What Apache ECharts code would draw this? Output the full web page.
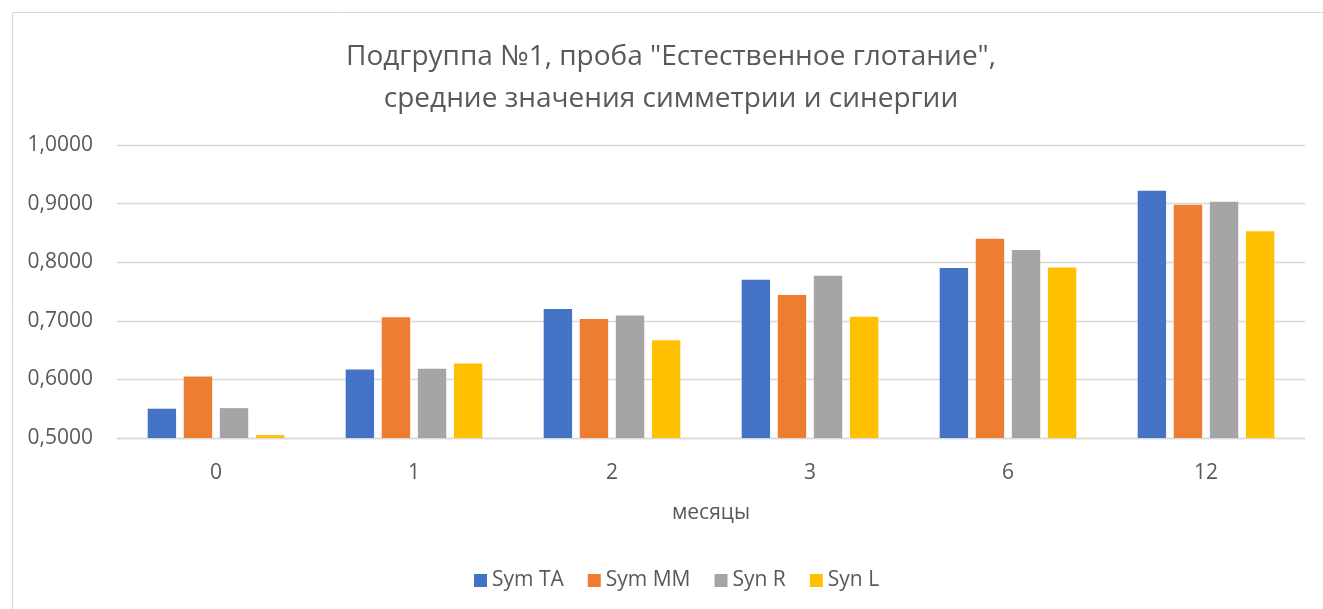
<!DOCTYPE html>
<html>
<head>
<meta charset="utf-8">
<script src="https://cdn.jsdelivr.net/npm/echarts@6/dist/echarts.min.js"></script>
<style>
    html, body { margin: 0; padding: 0; background: #fff; }
    #chart { width: 1323px; height: 609px; }
</style>
</head>
<body>
<div id="chart"></div>
<script>
// months after the start
var categories = ['0', '1', '2', '3', '6', '12'];

var symTA = [0.550, 0.617, 0.720, 0.770, 0.790, 0.922];
var symMM = [0.605, 0.706, 0.703, 0.744, 0.840, 0.898];
var synR = [0.551, 0.618, 0.709, 0.777, 0.821, 0.903];
var synL = [0.505, 0.627, 0.667, 0.707, 0.791, 0.853];

var seriesNames = ['Sym TA', 'Sym MM', 'Syn R', 'Syn L'];
var seriesColors = ['#4472c4', '#ed7d31', '#a5a5a5', '#ffc000'];

var textColor = '#595959';
var fontName = 'Open Sans';

var makeSeries = function(name, data, color) {
    return {
        name: name,
        type: 'bar',
        data: data,
        barGap: '27%',
        barCategoryGap: '31%',
        itemStyle: { color: color }
    };
};

var chartDom = document.getElementById('chart');
var myChart = echarts.init(chartDom);

var option = {
    backgroundColor: '#fff',
    animation: false,
    color: seriesColors,
    textStyle: { fontFamily: fontName },
    graphic: [{
        type: 'rect',
        shape: { x: 12.5, y: 12.5, width: 1400, height: 700 },
        style: { fill: 'none', stroke: '#d9d9d9', lineWidth: 1 },
        silent: true
    }],
    title: {
        text: 'Подгруппа №1, проба "Естественное глотание",\nсредние значения симметрии и синергии',
        left: 666,
        top: 31,
        textAlign: 'center',
        textStyle: {
            color: textColor,
            fontFamily: fontName,
            fontWeight: 'normal',
            fontSize: 28,
            lineHeight: 42
        }
    },
    legend: {
        bottom: 13,
        left: 469,
        itemWidth: 13,
        itemHeight: 13,
        itemGap: 24,
        icon: 'rect',
        textStyle: { color: textColor, fontSize: 21, fontFamily: fontName },
        data: seriesNames
    },
    grid: {
        left: 117,
        right: 18,
        top: 145,
        bottom: 171,
        containLabel: false
    },
    xAxis: {
        type: 'category',
        data: categories,
        name: 'месяцы',
        nameLocation: 'middle',
        nameGap: 65,
        nameTextStyle: { color: textColor, fontSize: 21, fontFamily: fontName },
        axisLine: { lineStyle: { color: '#d9d9d9', width: 1.3 } },
        axisTick: { show: false },
        axisLabel: { color: textColor, fontSize: 21, margin: 25, fontFamily: fontName }
    },
    yAxis: {
        type: 'value',
        min: 0.5,
        max: 1.0,
        interval: 0.1,
        axisLine: { show: false },
        axisTick: { show: false },
        splitLine: { lineStyle: { color: '#d9d9d9', width: 1.3 } },
        axisLabel: {
            color: textColor,
            fontSize: 21,
            margin: 24,
            fontFamily: fontName,
            formatter: function(v) {
                return v.toFixed(4).replace('.', ',');
            }
        }
    },
    series: [
        makeSeries(seriesNames[0], symTA, seriesColors[0]),
        makeSeries(seriesNames[1], symMM, seriesColors[1]),
        makeSeries(seriesNames[2], synR, seriesColors[2]),
        makeSeries(seriesNames[3], synL, seriesColors[3])
    ]
};

myChart.setOption(option, true);
</script>
</body>
</html>
